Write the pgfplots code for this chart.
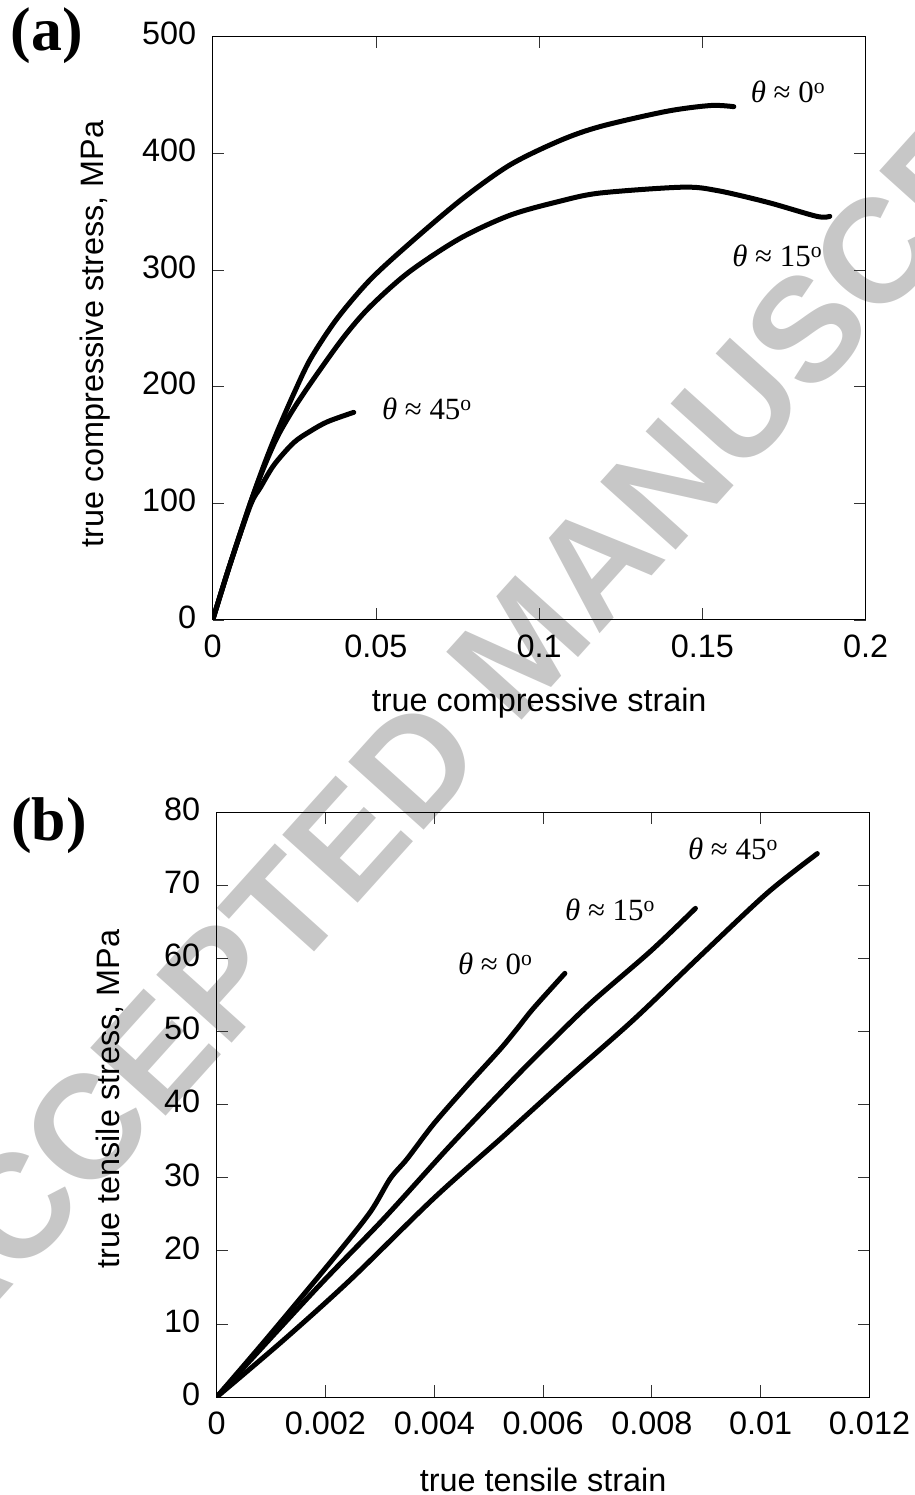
\documentclass[border=0pt]{standalone}
\usepackage{fontspec}
\setmainfont{Liberation Sans}
\newfontfamily\serif{Liberation Serif}
\usepackage{pgfplots}
\pgfplotsset{compat=1.18}

\pgfplotsset{
  panel/.style={
    scale only axis,
    axis line style={line width=1bp},
    tick style={line width=0.9bp, black!80},
    major tick length=11.5bp,
    tick align=inside,
    scaled x ticks=false,
    scaled y ticks=false,
    tick label style={font=\fontsize{32.5}{38}\selectfont},
    xticklabel style={yshift=-11bp},
    yticklabel style={xshift=-13bp, yshift=3bp},
    label style={font=\fontsize{32.5}{38}\selectfont},
    /pgf/number format/assume math mode=true,
  },
  curve/.style={black, line width=5bp, line join=round, line cap=round,
                smooth, tension=0.5},
}
\tikzset{tag/.style={font=\serif\fontsize{31}{35}\selectfont}}

\begin{document}
\begin{tikzpicture}
\useasboundingbox (0,0) rectangle (915bp,1495bp);

% watermark
\node[rotate=48, text=black!22, font=\bfseries\fontsize{148}{148}\selectfont]
  at (522bp,850bp) {ACCEPTED MANUSCRIPT};

% (a) compression
\begin{axis}[
  panel,
  at={(212.7bp,875bp)}, anchor=south west,
  width=653bp, height=583.3bp,
  xmin=0, xmax=0.2, ymin=0, ymax=500,
  xtick={0,0.05,0.1,0.15,0.2},
  xticklabels={0,0.05,0.1,0.15,0.2},
  ytick={0,100,200,300,400,500},
  xlabel={true compressive strain},
  ylabel={true compressive stress, MPa},
  xlabel style={at={(axis description cs:0.5,-0.142)}, anchor=center},
  ylabel style={at={(axis description cs:-0.180,0.49)}, anchor=center},
]
\addplot[curve] coordinates {
  (0,0) (0.005,45) (0.0115,100) (0.016,135) (0.020,163) (0.025,195)
  (0.030,224) (0.038,258) (0.048,291) (0.060,322) (0.076,360)
  (0.091,390) (0.1064,411) (0.1187,423) (0.139,436) (0.1525,441)
  (0.1596,440)
};
\addplot[curve] coordinates {
  (0,0) (0.005,45) (0.0115,100) (0.016,133) (0.020,158) (0.025,182)
  (0.031,207) (0.040,242) (0.048,268) (0.060,298) (0.0757,327)
  (0.0911,347) (0.1064,359) (0.1187,366) (0.144,371) (0.1547,368)
  (0.170,358) (0.185,346) (0.189,346)
};
\addplot[curve] coordinates {
  (0,0) (0.005,45) (0.0115,98) (0.0147,114) (0.0188,133) (0.0248,152)
  (0.030,162) (0.0352,170) (0.0432,178)
};
\node[tag] at (axis cs:0.1762,453) {\textit{θ} ≈ 0\textsuperscript{o}};
\node[tag] at (axis cs:0.1729,312) {\textit{θ} ≈ 15\textsuperscript{o}};
\node[tag] at (axis cs:0.0656,181) {\textit{θ} ≈ 45\textsuperscript{o}};
\end{axis}

% (b) tension
\begin{axis}[
  panel,
  at={(216.7bp,98bp)}, anchor=south west,
  width=652.8bp, height=584.3bp,
  xmin=0, xmax=0.012, ymin=0, ymax=80,
  xtick={0,0.002,0.004,0.006,0.008,0.01,0.012},
  xticklabels={0,0.002,0.004,0.006,0.008,0.01,0.012},
  ytick={0,10,...,80},
  xlabel={true tensile strain},
  ylabel={true tensile stress, MPa},
  xlabel style={at={(axis description cs:0.5,-0.142)}, anchor=center},
  ylabel style={at={(axis description cs:-0.164,0.51)}, anchor=center},
]
\addplot[curve] coordinates {
  (0,0) (0.00092,8.0) (0.00215,19.0) (0.00282,25.3) (0.00319,29.9)
  (0.0035,32.6) (0.00399,37.4) (0.0046,42.6) (0.00521,47.6)
  (0.00552,50.4) (0.00582,53.2) (0.0064,58.0)
};
\addplot[curve] coordinates {
  (0,0) (0.00184,14.9) (0.00307,24.4) (0.00429,34.4) (0.00552,44.0)
  (0.0060,47.6) (0.00687,53.9) (0.00797,61.0) (0.0088,66.9)
};
\addplot[curve] coordinates {
  (0,0) (0.00123,7.8) (0.00245,16.0) (0.00399,27.2) (0.00521,35.3)
  (0.00552,37.4) (0.00644,43.6) (0.00767,51.7) (0.00889,60.4)
  (0.01012,69.0) (0.01104,74.4)
};
\node[tag] at (axis cs:0.00512,59.3) {\textit{θ} ≈ 0\textsuperscript{o}};
\node[tag] at (axis cs:0.00723,66.7) {\textit{θ} ≈ 15\textsuperscript{o}};
\node[tag] at (axis cs:0.00949,75.0) {\textit{θ} ≈ 45\textsuperscript{o}};
\end{axis}

% panel tags
\node[font=\serif\bfseries\fontsize{62}{62}\selectfont] at (47bp,1459bp) {(a)};
\node[font=\serif\bfseries\fontsize{62}{62}\selectfont] at (49bp,669bp) {(b)};
\end{tikzpicture}
\end{document}
